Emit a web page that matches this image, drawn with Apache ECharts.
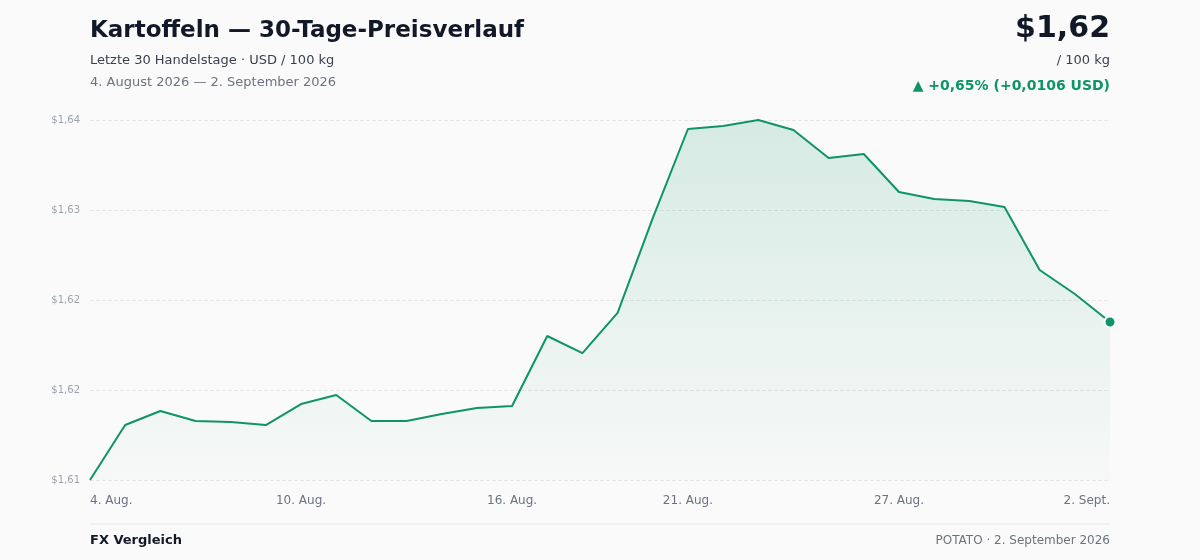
<!DOCTYPE html>
<html><head><meta charset="utf-8">
<script src="https://cdn.jsdelivr.net/npm/echarts@6/dist/echarts.min.js"></script>
<style>html,body{margin:0;padding:0;background:#fafafa}#c{width:1200px;height:560px}</style>
</head><body><div id="c"></div>
<script>
const categories = ['4. Aug.','5. Aug.','6. Aug.','7. Aug.','8. Aug.','9. Aug.','10. Aug.','11. Aug.','12. Aug.','13. Aug.','14. Aug.','15. Aug.','16. Aug.','17. Aug.','18. Aug.','19. Aug.','20. Aug.','21. Aug.','22. Aug.','23. Aug.','24. Aug.','25. Aug.','26. Aug.','27. Aug.','28. Aug.','29. Aug.','30. Aug.','31. Aug.','1. Sept.','2. Sept.'];
const prices = [1.6100,1.61458,1.61575,1.61492,1.61483,1.61458,1.61633,1.61708,1.61492,1.61492,1.6155,1.6160,1.61617,1.6220,1.62058,1.62392,1.63183,1.63925,1.6395,1.6400,1.63917,1.63683,1.63717,1.6340,1.63342,1.63325,1.63275,1.6275,1.6255,1.62317];
const shownLabels = [0,6,12,17,23,29];
const yTickLabels = ['$1,61','$1,62','$1,62','$1,63','$1,64'];
const yMin = 1.61, yMax = 1.64, yInterval = 0.0075;
const green = '#0e9466';
const font = 'DejaVu Sans';
const chart = echarts.init(document.getElementById('c'));
chart.setOption({
  backgroundColor:'#fafafa',
  textStyle:{fontFamily:font},
  graphic:[
    {type:'text',left:90,top:20,style:{text:'Kartoffeln — 30-Tage-Preisverlauf',font:'bold 23px '+font,fill:'#111827'}},
    {type:'text',left:90,top:54,style:{text:'Letzte 30 Handelstage · USD / 100 kg',font:'13px '+font,fill:'#374151'}},
    {type:'text',left:90,top:76,style:{text:'4. August 2026 — 2. September 2026',font:'13px '+font,fill:'#6b7280'}},
    {type:'text',right:90,top:14,style:{text:'$1,62',font:'bold 30px '+font,fill:'#111827',align:'right'}},
    {type:'text',right:90,top:54,style:{text:'/ 100 kg',font:'13px '+font,fill:'#374151',align:'right'}},
    {type:'text',right:90,top:79,style:{text:'▲ +0,65% (+0,0106 USD)',font:'bold 14px '+font,fill:green,align:'right'}},
    {type:'line',shape:{x1:90,y1:524,x2:1110,y2:524},style:{stroke:'#e5e7eb',lineWidth:1}},
    {type:'text',left:90,top:534,style:{text:'FX Vergleich',font:'bold 13px '+font,fill:'#111827'}},
    {type:'text',right:90,top:535,style:{text:'POTATO · 2. September 2026',font:'12px '+font,fill:'#6b7280',align:'right'}}
  ],
  grid:{left:90,right:90,top:120,bottom:80},
  xAxis:{type:'category',data:categories,boundaryGap:false,
    axisLine:{show:false},axisTick:{show:false},
    axisLabel:{interval:(i)=>shownLabels.includes(i),color:'#6b7280',fontSize:12,margin:15,alignMinLabel:'left',alignMaxLabel:'right'}},
  yAxis:{type:'value',min:yMin,max:yMax,interval:yInterval,
    axisLabel:{color:'#9ca3af',fontSize:10,margin:10,formatter:(v)=>yTickLabels[Math.round((v-yMin)/yInterval)]},
    splitLine:{lineStyle:{color:'#e5e7eb',type:'dashed'}}},
  series:[{type:'line',data:prices,smooth:false,symbol:'none',
    lineStyle:{color:green,width:2},
    areaStyle:{color:new echarts.graphic.LinearGradient(0,0,0,1,[{offset:0,color:'rgba(14,148,102,0.22)'},{offset:1,color:'rgba(14,148,102,0.02)'}])},
    markPoint:{symbol:'circle',symbolSize:11,itemStyle:{color:green,borderColor:'#fff',borderWidth:2},label:{show:false},
      data:[{coord:[categories.length-1,prices[prices.length-1]]}]}
  }]
});
</script></body></html>
